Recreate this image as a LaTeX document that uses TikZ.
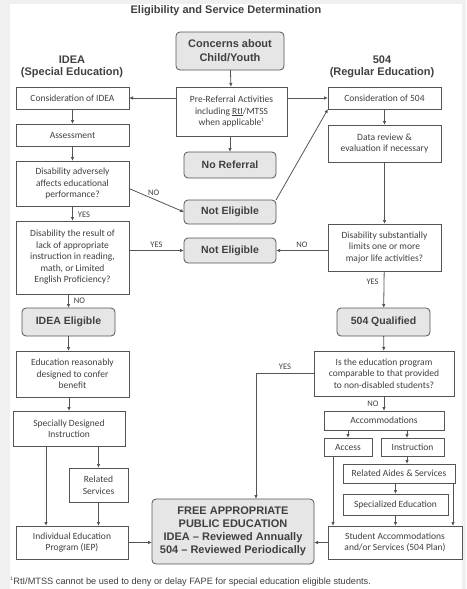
\documentclass[tikz,border=0pt]{standalone}
\usepackage{fontspec}
\setmainfont{Carlito}
\newfontfamily\headfont[Ligatures=TeX]{Liberation Sans}
\usetikzlibrary{arrows.meta}
\definecolor{linegray}{HTML}{555555}
\definecolor{textgray}{HTML}{404040}
\definecolor{fillgray}{HTML}{E6E6E6}
\definecolor{pagegray}{HTML}{F0F0F0}
\tikzset{
  box/.style={draw=linegray, line width=0.8pt, fill=white, align=center, text=textgray,
    inner sep=1pt, outer sep=0pt, font=\fontsize{9.5}{11.5}\selectfont},
  endbox/.style={box, fill=fillgray, rounded corners=4pt, font=\headfont\bfseries\fontsize{10.5}{13}\selectfont},
  head/.style={align=center, text=textgray, font=\headfont\bfseries\fontsize{11}{12.5}\selectfont},
  tag/.style={text=textgray, font=\fontsize{8.5}{9}\selectfont, inner sep=1pt},
  flow/.style={draw=linegray, line width=0.8pt, -{Latex[length=4pt,width=3.5pt]}}
}
\begin{document}
\begin{tikzpicture}[x=1pt,y=-1pt]
\fill[pagegray] (0,0) rectangle (466,589);
\fill[white] (10,4) rectangle (462,589);
\useasboundingbox (0,0) rectangle (466,589);
% headings
\node[head] (title) at (226,11) {Eligibility and Service Determination};
\node[head] (ideaHead) at (72,67) {IDEA\\(Special Education)};
\node[head] (secHead) at (382,67) {504\\(Regular Education)};
% nodes, middle
\node[endbox, minimum width=108pt, minimum height=38pt, font=\headfont\bfseries\fontsize{11}{14}\selectfont] (concern) at (230,51) {Concerns about\\Child/Youth};
\node[box, minimum width=111pt, minimum height=49pt] (preRef) at (231.5,111.5) {Pre-Referral Activities\\including \underline{RtI}/MTSS\\when applicable\textsuperscript{\tiny 1}};
\node[endbox, minimum width=92pt, minimum height=26pt] (noRef) at (230,165) {No Referral};
\node[endbox, minimum width=92pt, minimum height=24pt] (notElig1) at (230,212) {Not Eligible};
\node[endbox, minimum width=92pt, minimum height=25pt] (notElig2) at (230,250.5) {Not Eligible};
\node[endbox, minimum width=162pt, minimum height=65pt, font=\headfont\bfseries\fontsize{11}{13}\selectfont] (fape) at (233,531.5) {FREE APPROPRIATE\\PUBLIC EDUCATION\\IDEA \textendash{} Reviewed Annually\\504 \textendash{} Reviewed Periodically};
% nodes, IDEA side
\node[box, minimum width=113pt, minimum height=22pt] (consIdea) at (72.5,98) {Consideration of IDEA};
\node[box, minimum width=113pt, minimum height=22pt] (assess) at (72.5,135) {Assessment};
\node[box, minimum width=113pt, minimum height=45pt] (adverse) at (72.5,183.5) {Disability adversely\\affects educational\\performance?};
\node[box, minimum width=113pt, minimum height=73pt] (result) at (72.5,257.5) {Disability the result of\\lack of appropriate\\instruction in reading,\\math, or Limited\\English Proficiency?};
\node[endbox, minimum width=93pt, minimum height=28pt] (ideaElig) at (68.5,322) {IDEA Eligible};
\node[box, minimum width=113pt, minimum height=46pt] (reasonable) at (72.5,374) {Education reasonably\\designed to confer\\benefit};
\node[box, minimum width=112pt, minimum height=35pt] (special) at (69,428.5) {Specially Designed\\Instruction};
\node[box, minimum width=59pt, minimum height=34pt] (related) at (98.5,485) {Related\\Services};
\node[box, minimum width=112pt, minimum height=33pt] (iep) at (72,542.5) {Individual Education\\Program (IEP)};
% nodes, 504 side
\node[box, minimum width=113pt, minimum height=22pt] (cons504) at (384.5,98) {Consideration of 504};
\node[box, minimum width=113pt, minimum height=37pt] (dataRev) at (384.5,143.5) {Data review \&\\evaluation if necessary};
\node[box, minimum width=113pt, minimum height=47pt] (limits) at (384.5,247.5) {Disability substantially\\limits one or more\\major life activities?};
\node[endbox, minimum width=93pt, minimum height=28pt] (qualified) at (383.5,322) {504 Qualified};
\node[box, minimum width=140pt, minimum height=45pt] (comparable) at (384,373.5) {Is the education program\\comparable to that provided\\to non-disabled students?};
\node[box, minimum width=120pt, minimum height=19pt] (accom) at (384,420.5) {Accommodations};
\node[box, minimum width=48pt, minimum height=18pt] (access) at (348,447) {Access};
\node[box, minimum width=63pt, minimum height=18pt] (instr) at (412.5,447) {Instruction};
\node[box, minimum width=112pt, minimum height=19pt] (aides) at (399,473.5) {Related Aides \& Services};
\node[box, minimum width=105pt, minimum height=21pt] (specEd) at (395.5,504.5) {Specialized Education};
\node[box, minimum width=134pt, minimum height=33pt] (plan) at (395,542.5) {Student Accommodations\\and/or Services (504 Plan)};
% footnote
\node[anchor=west, text=textgray, inner sep=0pt, font=\headfont\fontsize{9.2}{10}\selectfont] (note) at (10,582) {\textsuperscript{\tiny 1}RtI/MTSS cannot be used to deny or delay FAPE for special education eligible students.};
% arrows, middle
\draw[flow] (concern) -- (preRef);
\draw[flow] (preRef.west |- consIdea) -- (consIdea.east);
\draw[flow] (preRef.east |- cons504) -- (cons504.west);
\draw[flow] (noRef.north |- preRef.south) -- (noRef.north);
% arrows, IDEA side
\draw[flow] (consIdea) -- (assess);
\draw[flow] (assess) -- (adverse);
\draw[flow] (adverse) --node[tag, right, pos=0.6, xshift=4pt]{YES} (result);
\draw[flow] ([yshift=-5pt]adverse.east) --node[tag, above, pos=0.45, yshift=2pt]{NO} (notElig1.west);
\draw[flow] (result.east |- notElig2) --node[tag, above, yshift=2pt]{YES} (notElig2.west);
\draw[flow] (result.south -| ideaElig.north) --node[tag, right, xshift=4pt]{NO} (ideaElig.north);
\draw[flow] (ideaElig) -- (ideaElig |- reasonable.north);
\draw[flow] (reasonable.south -| special.north) -- (special.north);
\draw[flow] ([xshift=-23pt]special.south) -- ([xshift=-23pt]special.south |- iep.north);
\draw[flow] (special.south -| related.north) -- (related.north);
\draw[flow] (related) -- (related |- iep.north);
\draw[flow] (iep.east) -- (iep.east -| fape.west);
% arrows, 504 side
\draw[flow] (notElig1.north east) -- (cons504.south west);
\draw[flow] (cons504) -- (dataRev);
\draw[flow] (dataRev) -- (limits);
\draw[flow] (limits.west |- notElig2) --node[tag, above, yshift=2pt]{NO} (notElig2.east);
\draw[flow] (limits) --node[tag, left, pos=0.3, xshift=-4pt]{YES} (qualified);
\draw[flow] (qualified) -- (comparable);
\draw[flow] (comparable) --node[tag, left, xshift=-4pt]{NO} (accom);
\draw[flow] (comparable.west) --node[tag, above, yshift=3pt]{YES} (256,373.5) -- ([xshift=23pt]fape.north);
\draw[flow] (accom.south -| access.north) -- (access.north);
\draw[flow] ([xshift=-5.5pt]instr.north |- accom.south) -- ([xshift=-5.5pt]instr.north);
\draw[flow] ([xshift=-5.5pt]instr.south) -- ([xshift=-5.5pt]instr.south |- aides.north);
\draw[flow] (aides.south -| specEd.north) -- (specEd.north);
\draw[flow] (specEd) -- (specEd |- plan.north);
\draw[flow] ([xshift=-15pt]access.south) -- ([xshift=-15pt]access.south |- plan.north);
\draw[flow] ([xshift=-2pt]aides.south east) -- ([xshift=-2pt]aides.south east |- plan.north);
\draw[flow] (plan.west) -- (plan.west -| fape.east);
\end{tikzpicture}
\end{document}
